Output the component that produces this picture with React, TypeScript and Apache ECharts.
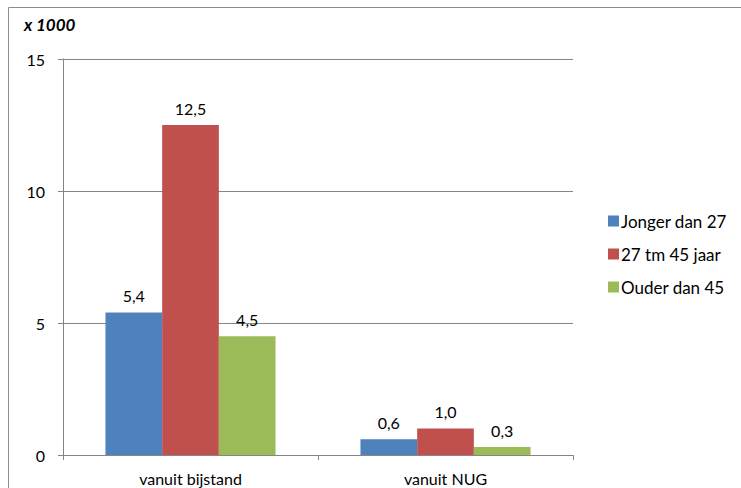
import React, { useEffect, useRef } from "react";
import * as echarts from "echarts";

const categories = ["vanuit bijstand", "vanuit NUG"];
const seriesNames = ["Jonger dan 27", "27 tm 45 jaar", "Ouder dan 45"];
const jonger = [5.4, 0.6];
const midden = [12.5, 1.0];
const ouder = [4.5, 0.3];
const colors = ["#4F81BD", "#C0504D", "#9BBB59"];

const FONT = "Lato, 'Open Sans', sans-serif";

export default function App() {
  const ref = useRef<HTMLDivElement>(null);
  useEffect(() => {
    document.body.style.margin = "0";
    const chart = echarts.init(ref.current!, undefined, { renderer: "svg" });
    const values = [jonger, midden, ouder];
    chart.setOption({
      animation: false,
      textStyle: { fontFamily: FONT },
      graphic: [
        {
          type: "rect",
          shape: { x: 8.5, y: 7.5, width: 900, height: 700 },
          style: { fill: "none", stroke: "#8c8c8c", lineWidth: 1 },
          silent: true,
        },
        {
          type: "text",
          left: 24,
          top: 16,
          style: {
            text: "x 1000",
            fontFamily: FONT,
            fontSize: 17,
            fontWeight: "bold",
            fontStyle: "italic",
            fill: "#000",
          },
        },
      ],
      grid: { left: 63, top: 59, right: 168, bottom: 33, containLabel: false },
      legend: {
        orient: "vertical",
        left: 603,
        top: 207,
        itemWidth: 11,
        itemHeight: 11,
        itemGap: 15,
        icon: "rect",
        textStyle: { fontFamily: FONT, fontSize: 17, lineHeight: 18, color: "#000", padding: [0, 0, 0, -3] },
        data: seriesNames,
      },
      xAxis: {
        type: "category",
        data: categories,
        axisLine: { lineStyle: { color: "#868686" } },
        axisTick: { show: true, length: 5, lineStyle: { color: "#868686" } },
        axisLabel: { fontFamily: FONT, fontSize: 16, color: "#000", margin: 15 },
      },
      yAxis: {
        type: "value",
        min: 0,
        max: 15,
        interval: 5,
        axisLine: { show: true, lineStyle: { color: "#868686" } },
        axisTick: { show: true, length: 5, lineStyle: { color: "#868686" } },
        splitLine: { lineStyle: { color: "#868686" } },
        axisLabel: { fontFamily: FONT, fontSize: 16, color: "#000", margin: 18 },
      },
      series: seriesNames.map((name, i) => ({
        name,
        type: "bar",
        data: values[i],
        barGap: "0%",
        barCategoryGap: "33.3%",
        itemStyle: { color: colors[i] },
        label: {
          show: true,
          position: "top",
          distance: 9,
          fontFamily: FONT,
          fontSize: 16,
          color: "#000",
          formatter: (p: any) => p.value.toFixed(1).replace(".", ","),
        },
      })),
    });
    return () => chart.dispose();
  }, []);
  return <div ref={ref} style={{ width: 741, height: 488 }} />;
}
